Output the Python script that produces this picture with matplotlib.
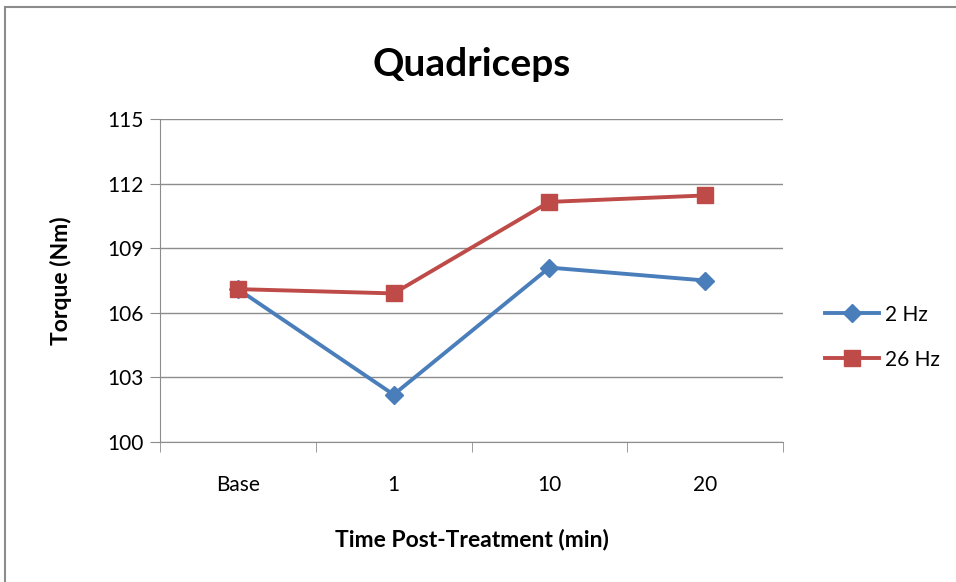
import matplotlib
matplotlib.use("Agg")
import matplotlib.pyplot as plt
from matplotlib.patches import Rectangle

categories = ["Base", "1", "10", "20"]
hz2 = [107.1, 102.2, 108.1, 107.5]
hz26 = [107.1, 106.9, 111.15, 111.45]
yticks = [100, 103, 106, 109, 112, 115]

plt.rcParams['font.family'] = ['Lato', 'DejaVu Sans']

fig = plt.figure(figsize=(9.56, 5.82), dpi=100)
fig.patches.append(Rectangle((5 / 956, -0.1), 1.2, 1 - 7 / 582 + 0.1, transform=fig.transFigure,
                             fill=False, edgecolor="#8c8c8c", linewidth=1.5))
ax = fig.add_axes([160 / 956, 1 - 442 / 582, 623 / 956, 323 / 582])

x = list(range(len(categories)))
ax.plot(x, hz2, color="#4A7EBB", lw=2.8, marker="D", markersize=9, label="2 Hz")
ax.plot(x, hz26, color="#BE4B48", lw=2.8, marker="s", markersize=12, label="26 Hz")

ax.set_xlim(-0.5, 3.5)
ax.set_ylim(100, 115)
ax.set_yticks(yticks)
ax.set_yticklabels([str(t) for t in yticks], fontsize=15)
ax.set_xticks(x)
ax.set_xticklabels(categories, fontsize=15)
ax.set_xticks([-0.5, 0.5, 1.5, 2.5, 3.5], minor=True)
ax.tick_params(axis="x", which="major", length=0, pad=24)
ax.tick_params(axis="x", which="minor", length=7, color="#8c8c8c")
ax.tick_params(axis="y", length=7, color="#8c8c8c", pad=5)
ax.grid(axis="y", color="#8c8c8c", lw=1)
ax.set_axisbelow(True)
for s in ["top", "right"]:
    ax.spines[s].set_visible(False)
for s in ["left", "bottom"]:
    ax.spines[s].set_color("#8c8c8c")

ax.set_title("Quadriceps", fontsize=28, fontweight="bold", pad=31)
ax.set_xlabel("Time Post-Treatment (min)", fontsize=16.5, fontweight="bold", labelpad=24)
ax.set_ylabel("Torque (Nm)", fontsize=16.5, fontweight="bold", labelpad=25)

fig.legend(loc="center left", bbox_to_anchor=(806 / 956, 1 - 337 / 582), frameon=False,
           fontsize=15, handlelength=2.6, handletextpad=0.3, labelspacing=1.2)

fig.savefig("out.png", dpi=100)
